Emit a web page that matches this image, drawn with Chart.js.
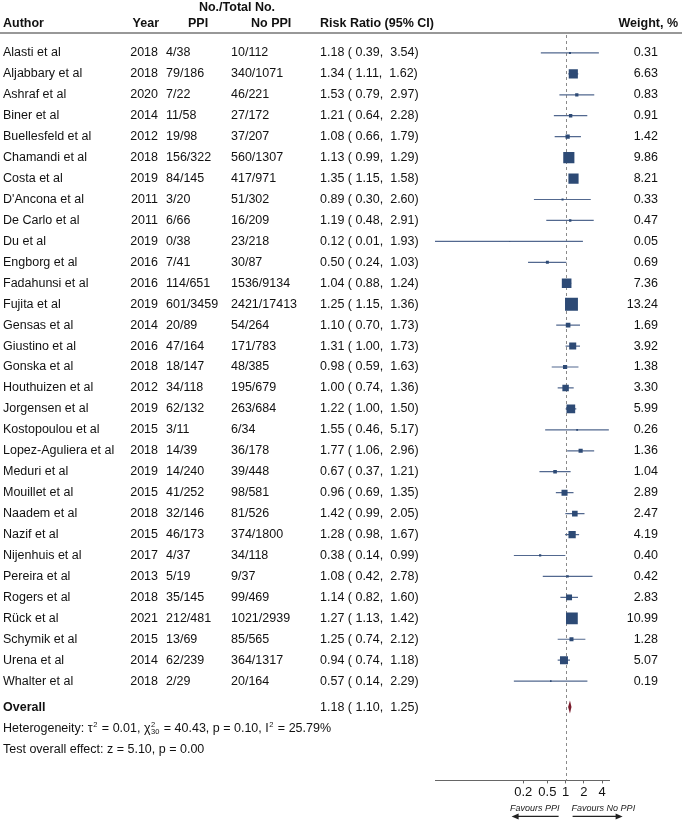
<!DOCTYPE html>
<html>
<head>
<meta charset="utf-8">
<script src="https://cdn.jsdelivr.net/npm/chart.js@4.4.1/dist/chart.umd.min.js"></script>
<style>
  html, body { margin: 0; padding: 0; background: #fff; }
  #wrap { position: relative; width: 682px; height: 823px; }
</style>
</head>
<body>
<div id="wrap"><canvas id="forest"></canvas></div>
<script>
const authors = [
  'Alasti et al', 'Aljabbary et al', 'Ashraf et al', 'Biner et al', 'Buellesfeld et al',
  'Chamandi et al', 'Costa et al', "D'Ancona et al", 'De Carlo et al', 'Du et al',
  'Engborg et al', 'Fadahunsi et al', 'Fujita et al', 'Gensas et al', 'Giustino et al',
  'Gonska et al', 'Houthuizen et al', 'Jorgensen et al', 'Kostopoulou et al', 'Lopez-Aguliera et al',
  'Meduri et al', 'Mouillet et al', 'Naadem et al', 'Nazif et al', 'Nijenhuis et al',
  'Pereira et al', 'Rogers et al', 'Rück et al', 'Schymik et al', 'Urena et al', 'Whalter et al'
];
const years = [2018, 2018, 2020, 2014, 2012, 2018, 2019, 2011, 2011, 2019, 2016, 2016, 2019, 2014, 2016,
  2018, 2012, 2019, 2015, 2018, 2019, 2015, 2018, 2015, 2017, 2013, 2018, 2021, 2015, 2014, 2018];
const ppi = ['4/38', '79/186', '7/22', '11/58', '19/98', '156/322', '84/145', '3/20', '6/66', '0/38',
  '7/41', '114/651', '601/3459', '20/89', '47/164', '18/147', '34/118', '62/132', '3/11', '14/39',
  '14/240', '41/252', '32/146', '46/173', '4/37', '5/19', '35/145', '212/481', '13/69', '62/239', '2/29'];
const noPpi = ['10/112', '340/1071', '46/221', '27/172', '37/207', '560/1307', '417/971', '51/302', '16/209', '23/218',
  '30/87', '1536/9134', '2421/17413', '54/264', '171/783', '48/385', '195/679', '263/684', '6/34', '36/178',
  '39/448', '98/581', '81/526', '374/1800', '34/118', '9/37', '99/469', '1021/2939', '85/565', '364/1317', '20/164'];
const riskRatio = [1.18, 1.34, 1.53, 1.21, 1.08, 1.13, 1.35, 0.89, 1.19, 0.12, 0.50, 1.04, 1.25, 1.10, 1.31,
  0.98, 1.00, 1.22, 1.55, 1.77, 0.67, 0.96, 1.42, 1.28, 0.38, 1.08, 1.14, 1.27, 1.25, 0.94, 0.57];
const ciLow = [0.39, 1.11, 0.79, 0.64, 0.66, 0.99, 1.15, 0.30, 0.48, 0.007, 0.24, 0.88, 1.15, 0.70, 1.00,
  0.59, 0.74, 1.00, 0.46, 1.06, 0.37, 0.69, 0.99, 0.98, 0.14, 0.42, 0.82, 1.13, 0.74, 0.74, 0.14];
const ciHigh = [3.54, 1.62, 2.97, 2.28, 1.79, 1.29, 1.58, 2.60, 2.91, 1.93, 1.03, 1.24, 1.36, 1.73, 1.73,
  1.63, 1.36, 1.50, 5.17, 2.96, 1.21, 1.35, 2.05, 1.67, 0.99, 2.78, 1.60, 1.42, 2.12, 1.18, 2.29];
const weights = [0.31, 6.63, 0.83, 0.91, 1.42, 9.86, 8.21, 0.33, 0.47, 0.05, 0.69, 7.36, 13.24, 1.69, 3.92,
  1.38, 3.30, 5.99, 0.26, 1.36, 1.04, 2.89, 2.47, 4.19, 0.40, 0.42, 2.83, 10.99, 1.28, 5.07, 0.19];
const overallRR = [1.18, 1.10, 1.25];   // estimate, low, high
const xTicks = [0.2, 0.5, 1, 2, 4];
const heterogeneity = ['0.01', '30', '40.43', '0.10', '25.79'];  // tau2, df, chi2, p, I2
const overallTest = ['5.10', '0.00'];  // z, p

const FONT = '"Liberation Sans", Arial, Helvetica, sans-serif';
const SIZE = '12.5px ';
const INK = '#111';
const fmt = (v) => v.toFixed(2);
const ciText = (rr, lo, hi) => fmt(rr) + ' ( ' + fmt(lo) + ',  ' + fmt(hi) + ')';

// row slots on the y scale (0 = first study)
const overallRow = authors.length + 0.24;
const hetRow = overallRow + 1.03;
const testRow = hetRow + 1.0;

const tablePlugin = {
  id: 'forestTable',
  beforeDatasetsDraw( chart ) {
    const { ctx, chartArea, scales: { x } } = chart;
    const px = Math.round( x.getPixelForValue( 1 ) ) + 0.5;
    ctx.save();
    ctx.strokeStyle = '#8a8a8a';
    ctx.lineWidth = 1;
    ctx.setLineDash( [ 3, 3 ] );
    ctx.beginPath();
    ctx.moveTo( px, chartArea.top + 2 );
    ctx.lineTo( px, chartArea.bottom );
    ctx.stroke();
    ctx.restore();
  },
  afterDatasetsDraw( chart ) {
    const { ctx, scales: { x, y } } = chart;
    // overall diamond
    const cy = y.getPixelForValue( overallRow );
    ctx.save();
    ctx.fillStyle = '#7a1c2c';
    ctx.beginPath();
    ctx.moveTo( x.getPixelForValue( overallRR[1] ), cy );
    ctx.lineTo( x.getPixelForValue( overallRR[0] ), cy - 6.5 );
    ctx.lineTo( x.getPixelForValue( overallRR[2] ), cy );
    ctx.lineTo( x.getPixelForValue( overallRR[0] ), cy + 6.5 );
    ctx.closePath();
    ctx.fill();
    ctx.restore();
  },
  afterDraw( chart ) {
    const { ctx, chartArea, scales: { x, y } } = chart;
    const W = chart.width;
    ctx.save();
    ctx.fillStyle = INK;
    ctx.textBaseline = 'middle';

    // headers
    ctx.font = 'bold ' + SIZE + FONT;
    ctx.textAlign = 'center';
    ctx.fillText( 'No./Total No.', 237, 8 );
    ctx.textAlign = 'left';
    ctx.fillText( 'Author', 3, 24 );
    ctx.fillText( 'PPI', 188, 24 );
    ctx.fillText( 'No PPI', 251, 24 );
    ctx.fillText( 'Risk Ratio (95% CI)', 320, 24 );
    ctx.textAlign = 'right';
    ctx.fillText( 'Year', 159, 24 );
    ctx.fillText( 'Weight, %', 678, 24 );

    ctx.strokeStyle = '#333';
    ctx.lineWidth = 1.2;
    ctx.beginPath();
    ctx.moveTo( 0, 33 );
    ctx.lineTo( W, 33 );
    ctx.stroke();

    // study rows
    ctx.font = SIZE + FONT;
    authors.forEach( ( name, i ) => {
      const py = y.getPixelForValue( i );
      ctx.textAlign = 'left';
      ctx.fillText( name, 3, py );
      ctx.fillText( ppi[i], 166, py );
      ctx.fillText( noPpi[i], 231, py );
      ctx.fillText( ciText( riskRatio[i], ciLow[i], ciHigh[i] ), 320, py );
      ctx.textAlign = 'right';
      ctx.fillText( String( years[i] ), 158, py );
      ctx.fillText( fmt( weights[i] ), 658, py );
    } );

    // overall row
    const oy = y.getPixelForValue( overallRow );
    ctx.textAlign = 'left';
    ctx.font = 'bold ' + SIZE + FONT;
    ctx.fillText( 'Overall', 3, oy );
    ctx.font = SIZE + FONT;
    ctx.fillText( ciText( overallRR[0], overallRR[1], overallRR[2] ), 320, oy );

    // heterogeneity line with super/subscripts
    const hy = y.getPixelForValue( hetRow );
    let cx = 3;
    const put = ( t ) => { ctx.font = SIZE + FONT; ctx.fillText( t, cx, hy ); cx += ctx.measureText( t ).width; };
    const script = ( sup, sub ) => {
      ctx.font = '7.5px ' + FONT;
      let w = 0;
      if ( sup ) { ctx.fillText( sup, cx + 0.5, hy - 4 ); w = ctx.measureText( sup ).width; }
      if ( sub ) { ctx.fillText( sub, cx + 0.5, hy + 3.5 ); w = Math.max( w, ctx.measureText( sub ).width ); }
      cx += w + 1.5;
    };
    put( 'Heterogeneity: τ' );
    script( '2' );
    put( ' = ' + heterogeneity[0] + ', χ' );
    script( '2', heterogeneity[1] );
    put( ' = ' + heterogeneity[2] + ', p = ' + heterogeneity[3] + ', I' );
    script( '2' );
    put( ' = ' + heterogeneity[4] + '%' );

    const ty = y.getPixelForValue( testRow );
    ctx.font = SIZE + FONT;
    ctx.fillText( 'Test overall effect: z = ' + overallTest[0] + ', p = ' + overallTest[1], 3, ty );

    // favours labels and arrows
    const p1 = x.getPixelForValue( 1 );
    const fy = chartArea.bottom + 28.5;
    const ay = chartArea.bottom + 36;
    ctx.font = 'italic 9px ' + FONT;
    ctx.fillStyle = '#222';
    ctx.textAlign = 'right';
    ctx.fillText( 'Favours PPI', p1 - 6, fy );
    ctx.textAlign = 'left';
    ctx.fillText( 'Favours No PPI', p1 + 6, fy );

    const arrow = ( x0, x1 ) => {
      const dir = Math.sign( x1 - x0 );
      ctx.strokeStyle = '#222';
      ctx.lineWidth = 1.2;
      ctx.beginPath();
      ctx.moveTo( x0, ay );
      ctx.lineTo( x1 - dir * 5, ay );
      ctx.stroke();
      ctx.beginPath();
      ctx.moveTo( x1, ay );
      ctx.lineTo( x1 - dir * 7, ay - 3 );
      ctx.lineTo( x1 - dir * 7, ay + 3 );
      ctx.closePath();
      ctx.fillStyle = '#222';
      ctx.fill();
    };
    arrow( p1 - 7, p1 - 54 );
    arrow( p1 + 7, p1 + 57 );

    ctx.restore();
  }
};

const squarePoints = riskRatio.map( ( v, i ) => ( { x: v, y: i } ) );
const squareRadius = weights.map( ( w ) => Math.max( 0.9, 3.55 * Math.sqrt( w ) ) / Math.SQRT2 );
const ciSegments = [];
riskRatio.forEach( ( v, i ) => {
  ciSegments.push( { x: ciLow[i], y: i }, { x: ciHigh[i], y: i }, { x: null, y: null } );
} );

new Chart( document.getElementById( 'forest' ), {
  type: 'scatter',
  data: {
    datasets: [ {
      data: squarePoints,
      pointStyle: 'rect',
      pointRadius: squareRadius,
      pointBorderWidth: 0,
      backgroundColor: '#2d4a75',
      borderColor: '#2d4a75',
    }, {
      data: ciSegments,
      showLine: true,
      spanGaps: false,
      pointRadius: 0,
      borderColor: '#52688f',
      borderWidth: 1.2,
    } ]
  },
  options: {
    responsive: true,
    maintainAspectRatio: false,
    animation: false,
    events: [],
    layout: { padding: { left: 435, right: 73, top: 33, bottom: 22 } },
    plugins: { legend: { display: false }, tooltip: { enabled: false } },
    scales: {
      x: {
        type: 'logarithmic',
        min: 0.007,
        max: 5.2,
        afterBuildTicks: ( scale ) => { scale.ticks = xTicks.map( ( v ) => ( { value: v } ) ); },
        ticks: {
          autoSkip: false,
          maxRotation: 0,
          padding: 1,
          color: '#111',
          font: { family: FONT, size: 13 },
          callback: ( v ) => String( v ),
        },
        grid: { drawOnChartArea: false, drawTicks: true, tickLength: 3, color: '#666' },
        border: { display: true, color: '#666', width: 1 },
      },
      y: {
        type: 'linear',
        reverse: true,
        min: -0.95,
        max: 34.74,
        display: false,
      }
    }
  },
  plugins: [ tablePlugin ]
} );
</script>
</body>
</html>
